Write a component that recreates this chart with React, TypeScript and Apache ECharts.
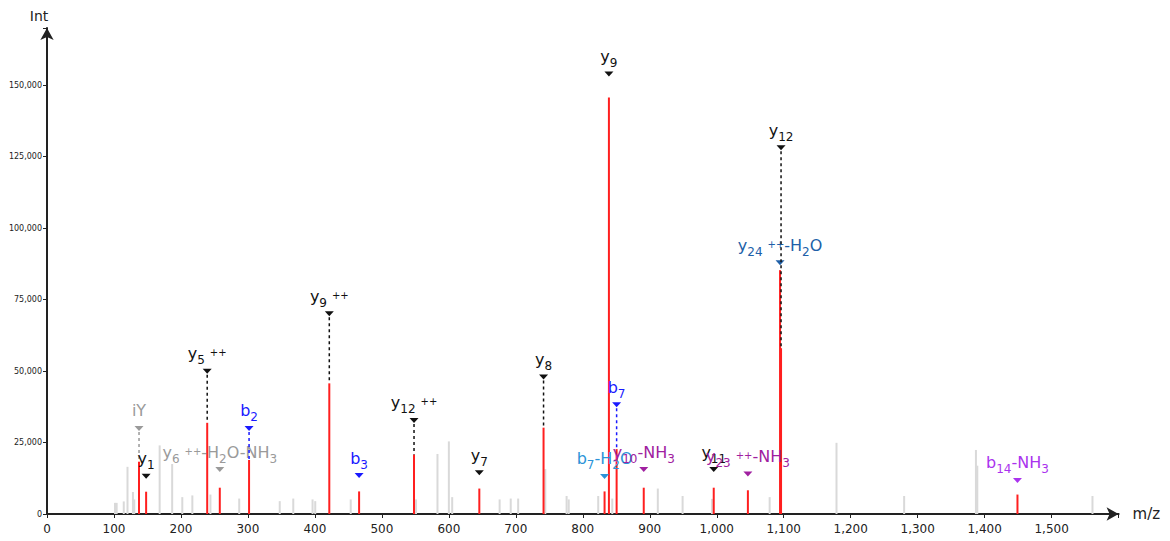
import React, { useEffect, useRef } from 'react';
import * as echarts from 'echarts';

// Unassigned peaks of the spectrum (m/z, intensity)
const otherMz = [101.5, 104, 114.6, 120.2, 128.3, 130.3, 168.2, 186.9, 202, 217, 244, 287, 347.5, 367.7, 396.5, 400.5, 453.5, 551, 583, 600, 605, 675.8, 692.4, 703.5, 744, 775.8, 779, 823, 844, 912, 949, 993, 1079, 1178.8, 1279.8, 1387, 1389, 1561];
const otherInt = [3900, 3900, 4400, 16500, 7700, 5100, 24000, 17500, 5900, 6500, 6800, 5400, 4500, 5400, 5100, 4500, 5100, 5100, 21000, 25400, 5900, 5100, 5400, 5400, 15700, 6300, 5100, 6300, 5400, 8900, 6300, 5300, 5900, 24900, 6300, 22400, 16900, 6300];

// Matched fragment ions
const ionMz = [137.4, 148, 239.2, 258, 301.7, 421.5, 466, 548, 645.5, 741.4, 832.5, 839, 850.5, 891, 995.5, 1046.5, 1094.5, 1096, 1449];
const ionInt = [18300, 7800, 31900, 9200, 18900, 45700, 7900, 20800, 8900, 30200, 7900, 145700, 22700, 9200, 9200, 8300, 85300, 58000, 6800];
const ionNames = [
  'iY', 'y_{1}', 'y_{5}^{++}', 'y_{6}^{++}-H_{2}O-NH_{3}', 'b_{2}', 'y_{9}^{++}', 'b_{3}', 'y_{12}^{++}', 'y_{7}', 'y_{8}',
  'b_{7}-H_{2}O', 'y_{9}', 'b_{7}', 'y_{10}-NH_{3}', 'y_{11}', 'y_{23}^{++}-NH_{3}', 'y_{24}^{++}-H_{2}O', 'y_{12}', 'b_{14}-NH_{3}',
];
const ionKinds = ['grey', 'y', 'y', 'grey', 'b', 'y', 'b', 'y', 'y', 'y', 'bLoss', 'y', 'b', 'yLoss', 'y', 'yLoss', 'yWater', 'y', 'bAmmonia'];

// Annotation layout: height of each marker (intensity units) and whether a leader line joins it to its peak
const markerLevels = [30100, 13400, 50100, 15700, 30100, 70200, 13600, 32900, 14600, 48100, 13300, 154100, 38400, 15700, 15700, 14200, 88100, 128300, 11900];
const hasLeader = [true, false, true, false, true, true, false, true, false, true, false, false, true, false, false, false, false, true, false];

const kindColor: Record<string, string> = {
  grey: '#9a9a9a',
  y: '#111111',
  b: '#1a1aff',
  bLoss: '#2b93d8',
  yLoss: '#a020a0',
  yWater: '#2060a8',
  bAmmonia: '#aa33ee',
};

const FONT = '"DejaVu Sans", Verdana, sans-serif';

// Turn "y_{5}^{++}-H_{2}O" into ECharts rich text tokens
function toRich(s: string): string {
  let out = '';
  let buf = '';
  let i = 0;
  const flush = () => {
    if (buf) {
      out += `{b|${buf}}`;
      buf = '';
    }
  };
  while (i < s.length) {
    const c = s[i];
    if ((c === '_' || c === '^') && s[i + 1] === '{') {
      flush();
      const end = s.indexOf('}', i + 2);
      out += `{${c === '_' ? 's' : 'p'}|${s.slice(i + 2, end)}}`;
      i = end + 1;
    } else {
      buf += c;
      i++;
    }
  }
  flush();
  return out;
}

const richStyles = {
  b: { fontSize: 16, lineHeight: 26, fontFamily: FONT },
  s: { fontSize: 12, lineHeight: 12, fontFamily: FONT, padding: [13, 0, 0, 0] },
  p: { fontSize: 10, lineHeight: 12, fontFamily: FONT, padding: [0, 0, 2, 5] },
};

function stickRenderer(color: string, width: number) {
  return (_params: any, api: any) => {
    const top = api.coord([api.value(0), api.value(1)]);
    const base = api.coord([api.value(0), 0]);
    return {
      type: 'line',
      shape: { x1: top[0], y1: top[1], x2: base[0], y2: base[1] },
      style: { stroke: color, lineWidth: width },
    };
  };
}

export default function App() {
  const ref = useRef<HTMLDivElement>(null);

  useEffect(() => {
    if (!ref.current) return;
    const chart = echarts.init(ref.current, undefined, { renderer: 'svg' });

    const option = {
      animation: false,
      grid: { left: 47, right: 51.4, top: 28, bottom: 27, containLabel: false },
      xAxis: {
        type: 'value',
        min: 0,
        max: 1600,
        interval: 100,
        name: 'm/z',
        nameLocation: 'end',
        nameGap: 14,
        nameTextStyle: { fontSize: 15, color: '#222', fontFamily: FONT },
        splitLine: { show: false },
        axisLine: {
          show: true,
          symbol: ['none', 'arrow'],
          symbolSize: [10, 12],
          lineStyle: { color: '#222', width: 2 },
        },
        axisTick: { show: true, length: 4, lineStyle: { color: '#222', width: 1 } },
        axisLabel: {
          margin: 9,
          fontSize: 12,
          color: '#222',
          fontFamily: FONT,
          formatter: (v: number) => (v >= 1600 ? '' : v.toLocaleString('en-US')),
        },
      },
      yAxis: {
        type: 'value',
        min: 0,
        max: 170000,
        interval: 25000,
        name: 'Int',
        nameLocation: 'end',
        nameGap: 5,
        nameTextStyle: { fontSize: 14, color: '#222', fontFamily: FONT, padding: [0, 16, 0, 0] },
        splitLine: { show: false },
        axisLine: {
          show: true,
          symbol: ['none', 'arrow'],
          symbolSize: [10, 12],
          lineStyle: { color: '#222', width: 2 },
        },
        axisTick: { show: true, length: 4, lineStyle: { color: '#222', width: 1 } },
        axisLabel: {
          margin: 5,
          fontSize: 8,
          color: '#222',
          fontFamily: FONT,
          formatter: (v: number) => (v > 150000 ? '' : v.toLocaleString('en-US')),
        },
      },
      series: [
        {
          type: 'custom',
          name: 'unassigned',
          silent: true,
          data: otherMz.map((m, i) => [m, otherInt[i]]),
          renderItem: stickRenderer('#d9d9d9', 2),
        },
        {
          type: 'custom',
          name: 'matched',
          silent: true,
          data: ionMz.map((m, i) => [m, ionInt[i]]),
          renderItem: stickRenderer('#ff1f1f', 2),
        },
        {
          type: 'custom',
          name: 'annotations',
          silent: true,
          data: ionMz.map((m, i) => [m, ionInt[i], markerLevels[i], i]),
          renderItem: (_params: any, api: any) => {
            const idx = api.value(3);
            const color = kindColor[ionKinds[idx]];
            const peak = api.coord([api.value(0), api.value(1)]);
            const mark = api.coord([api.value(0), api.value(2)]);
            const children: any[] = [];
            if (hasLeader[idx]) {
              children.push({
                type: 'line',
                shape: { x1: mark[0], y1: mark[1] + 4, x2: peak[0], y2: peak[1] },
                style: { stroke: color, lineWidth: 1.5, lineDash: [3, 3] },
              });
            }
            children.push({
              type: 'polygon',
              shape: {
                points: [
                  [mark[0] - 4.5, mark[1] - 2],
                  [mark[0] + 4.5, mark[1] - 2],
                  [mark[0], mark[1] + 3],
                ],
              },
              style: { fill: color },
            });
            children.push({
              type: 'text',
              x: mark[0],
              y: mark[1] - 4,
              style: {
                text: toRich(ionNames[idx]),
                rich: richStyles,
                fill: color,
                align: 'center',
                verticalAlign: 'bottom',
                fontFamily: FONT,
                fontSize: 16,
              },
            });
            return { type: 'group', children };
          },
        },
      ],
    };

    chart.setOption(option as any);
    return () => chart.dispose();
  }, []);

  return (
    <div
      ref={ref}
      style={{ position: 'fixed', left: 0, top: 0, width: 1170, height: 541, background: '#fff' }}
    />
  );
}
